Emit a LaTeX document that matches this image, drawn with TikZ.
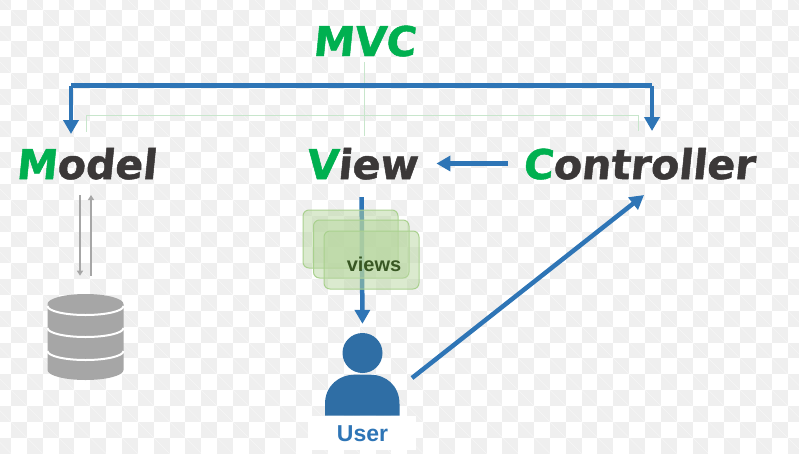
\documentclass[tikz,border=0pt]{standalone}
\usepackage{fontspec}
\setmainfont{Liberation Sans}
\newfontfamily\titlefont[BoldFont={DejaVu Sans Bold},BoldFeatures={FakeSlant=0.1,FakeBold=1.2}]{DejaVu Sans}
\usetikzlibrary{arrows.meta,positioning}
\definecolor{mvcgreen}{HTML}{00B050}
\definecolor{darktext}{HTML}{3B3838}
\definecolor{flowblue}{HTML}{2E75B6}
\definecolor{userblue}{HTML}{2F6EA5}
\definecolor{viewstext}{HTML}{385723}
\definecolor{dbgray}{HTML}{A6A6A6}
\definecolor{thingreen}{HTML}{C8E6CC}
\definecolor{cardline}{HTML}{A9D18E}
\definecolor{cardfill}{HTML}{B9D7A1}
\definecolor{checker}{HTML}{EFEFEF}
\tikzset{
  title/.style={font=\titlefont\bfseries\fontsize{41}{41}\selectfont,text=darktext,inner sep=0pt,text height=31pt,text depth=0pt},
  flow/.style={draw=flowblue,line width=4.5pt,-{Triangle[length=14pt,width=15pt]}},
  tree/.style={draw=thingreen,line width=0.8pt},
  dbarrow/.style={draw=dbgray,line width=1.6pt,-{Triangle[length=5pt,width=6pt]}},
  card/.style={draw=cardline,line width=1pt,fill=cardfill,fill opacity=0.5,rounded corners=6pt},
  band/.style={draw=white,line width=2pt},
}
\begin{document}
\begin{tikzpicture}[x=1pt,y=-1pt]
  \useasboundingbox (0,0) rectangle (799,453);
  % background squares
  \fill[white] (0,0) rectangle (799,453);
  \foreach \i in {-1,...,49} \foreach \j in {-1,...,28} {
    \pgfmathparse{int(mod(\i+\j+2,2))}
    \ifnum\pgfmathresult=0
      \fill[checker] ({11+\i*15.85},{9.7+\j*15.85}) rectangle ++(15.85,15.85);
      \draw[white,opacity=0.5,line width=0.5pt] ({11+\i*15.85},{9.7+\j*15.85}) -- ++(15.85,15.85);
    \fi
  }
  % titles
  \node[title,text=mvcgreen,anchor=base] (mvc) at (364,56) {MVC};
  \node[title,anchor=base] (model) at (86,179) {\textcolor{mvcgreen}{M}odel};
  \node[title,anchor=base] (view) at (361.5,179) {\textcolor{mvcgreen}{V}iew};
  \node[title,anchor=base] (controller) at (638.5,179) {\textcolor{mvcgreen}{C}ontroller};
  % thin tree under the title
  \coordinate (treemid) at (364,115.7);
  \draw[tree,shorten <=6pt] (mvc.south) -- (treemid);
  \draw[tree] (treemid) -- (364,136);
  \draw[tree,shorten <=16pt,shorten >=17pt] (model.north) -- (model.north |- treemid) -- (controller.north |- treemid) -- (controller.north);
  % blue bus
  \coordinate (busleft) at (71,85.5);
  \coordinate (busright) at (652,85.5);
  \coordinate (modeltip) at (71,134);
  \coordinate (controllertip) at (652,131);
  \draw[flowblue,line width=5pt] (busleft) -- (busright);
  \draw[flow] (busleft) -- (modeltip);
  \draw[flow] (busright) -- (controllertip);
  % user
  \fill[white] (308,416) rectangle (416,450);
  \node[circle,fill=userblue,minimum size=40pt,inner sep=0pt] (userhead) at (362.5,353) {};
  \fill[userblue] (325,415.5) -- (325,404) .. controls (325,385) and (340,374.7) .. (354,374.7)
    -- (371,374.7) .. controls (385,374.7) and (399.5,385) .. (399.5,404) -- (399.5,415.5) -- cycle;
  \node[font=\bfseries\fontsize{23}{23}\selectfont,text=flowblue,inner sep=0pt,anchor=base] (user) at (362.5,441.5) {User};
  % blue arrows
  \draw[flow,shorten <=15pt,shorten >=19pt] (controller.west) -- (view.east);
  \draw[flow,shorten <=18pt,shorten >=9pt] (view.south) -- (userhead.north);
  \coordinate (userout) at (412,378);
  \coordinate (controllerin) at (644,195);
  \draw[flow] (userout) -- (controllerin);
  % view cards
  \draw[card] (303,210) rectangle (398,268);
  \draw[card] (313.5,220) rectangle (409,278);
  \draw[card] (324,231) rectangle (419,289);
  \node[font=\bfseries\fontsize{20}{20}\selectfont,text=viewstext,inner sep=0pt,anchor=base] (views) at (374,271) {views};
  % database
  \draw[dbarrow] (80,195) -- (80,275.7);
  \draw[dbarrow] (91,275.7) -- (91,195);
  \fill[dbgray] (47.5,304) arc (180:360:38 and 10) -- (123.5,370) arc (0:180:38 and 10) -- cycle;
  \foreach \y in {306,328,351} \draw[band] (47.5,\y) arc (180:0:38 and 9);
\end{tikzpicture}
\end{document}
